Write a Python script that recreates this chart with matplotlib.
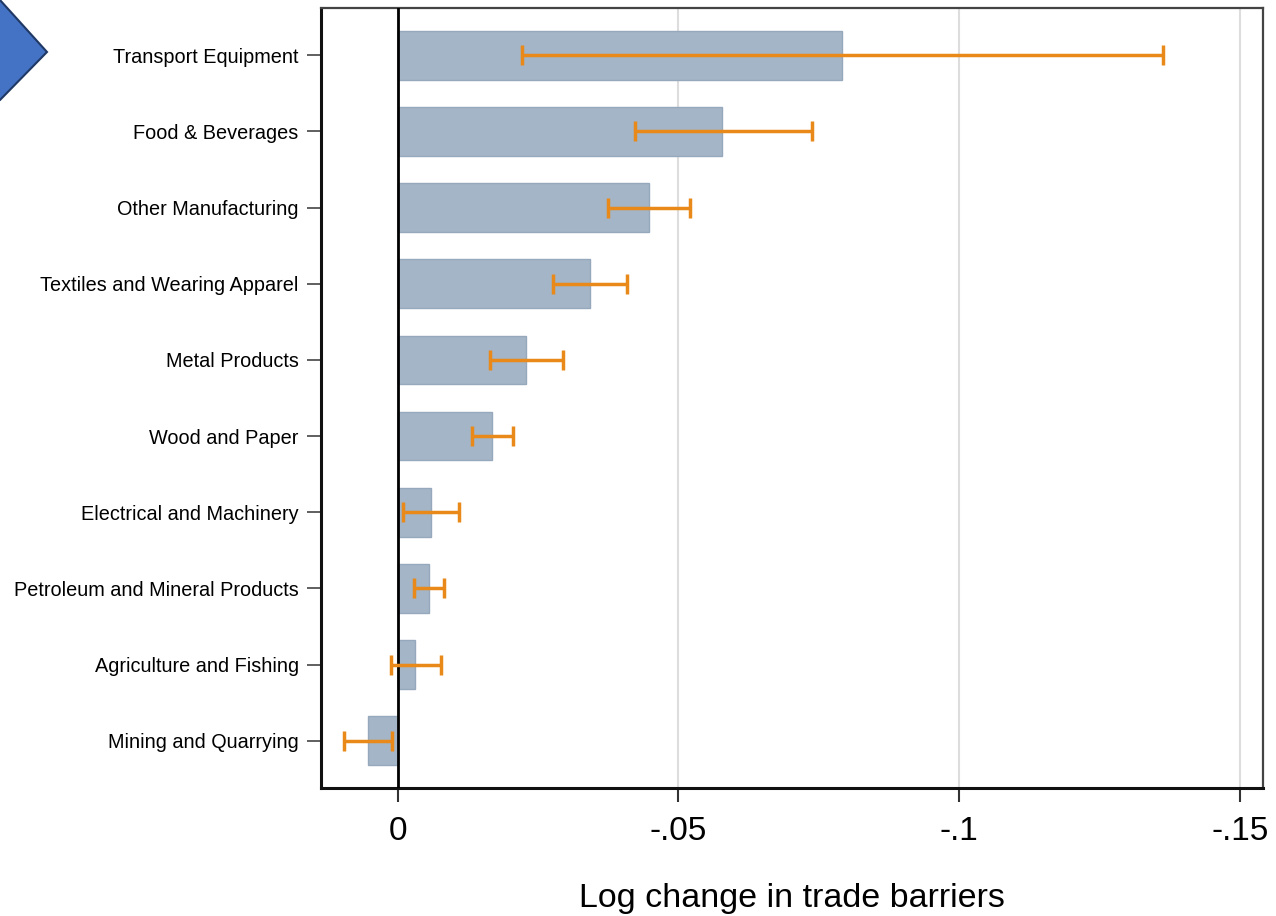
import matplotlib.pyplot as plt
import matplotlib.patches as mpatches
import numpy as np

plt.rcParams['font.family'] = ['Liberation Sans', 'DejaVu Sans']

# sectors, top to bottom
sectors = ['Transport Equipment', 'Food & Beverages', 'Other Manufacturing',
           'Textiles and Wearing Apparel', 'Metal Products', 'Wood and Paper',
           'Electrical and Machinery', 'Petroleum and Mineral Products',
           'Agriculture and Fishing', 'Mining and Quarrying']
# point estimate of the log change, with confidence bounds
effect = [-0.0792, -0.0578, -0.0447, -0.0343, -0.0228, -0.0167,
          -0.0059, -0.0055, -0.0030, 0.0053]
ci_low = [-0.0222, -0.0423, -0.0375, -0.0276, -0.0164, -0.0132,
          -0.0009, -0.0028, 0.0012, 0.0096]
ci_high = [-0.1363, -0.0738, -0.0520, -0.0409, -0.0295, -0.0206,
           -0.0109, -0.0082, -0.0077, 0.0011]
xticks = [0, -0.05, -0.1, -0.15]
xticklabels = ['0', '-.05', '-.1', '-.15']

bar_col = '#a4b5c7'
err_col = '#e8891a'

fig = plt.figure(figsize=(12.76, 9.16), dpi=100)
ax = fig.add_axes([0.2515, 0.1397, 0.7382, 0.8516])

y = np.arange(len(sectors))[::-1]
ax.barh(y, effect, height=0.64, color=bar_col, edgecolor='#96a8bb',
        linewidth=1, zorder=2)
ax.axvline(0, color='black', lw=2, zorder=3)

lo = np.array(ci_low)
hi = np.array(ci_high)
mid = (lo + hi) / 2
half = np.abs(hi - lo) / 2
ax.errorbar(mid, y, xerr=half, fmt='none', ecolor=err_col, elinewidth=2.5,
            capsize=7, capthick=2.5, zorder=4)

ax.set_xlim(0.0137, -0.1541)
ax.set_ylim(-0.62, 9.62)
ax.set_xticks(xticks)
ax.set_xticklabels(xticklabels, fontsize=24)
ax.set_yticks(y)
ax.set_yticklabels(sectors, fontsize=14.3)
ax.tick_params(axis='x', length=10, width=1.5, pad=10, color='#333333')
ax.tick_params(axis='y', length=10, width=1.2, pad=6, color='#444444')
ax.grid(axis='x', color='#dddddd', lw=1.5, zorder=0)
ax.set_xlabel('Log change in trade barriers', fontsize=24.5, labelpad=26)

for side in ['left', 'bottom']:
    ax.spines[side].set_linewidth(2.2)
    ax.spines[side].set_color('#111111')
for side in ['top', 'right']:
    ax.spines[side].set_linewidth(1.6)
    ax.spines[side].set_color('#444444')

# chevron in the top-left corner
W, H = 1276, 916
pts = [(-20, 0), (0, 0), (47, 52), (0, 100), (-20, 100)]
chev = mpatches.Polygon([(px / W, 1 - py / H) for px, py in pts], closed=True,
                        transform=fig.transFigure, facecolor='#4472c4',
                        edgecolor='#1f3864', lw=1.5, clip_on=False)
fig.patches.append(chev)

fig.savefig('out.png', dpi=100)
